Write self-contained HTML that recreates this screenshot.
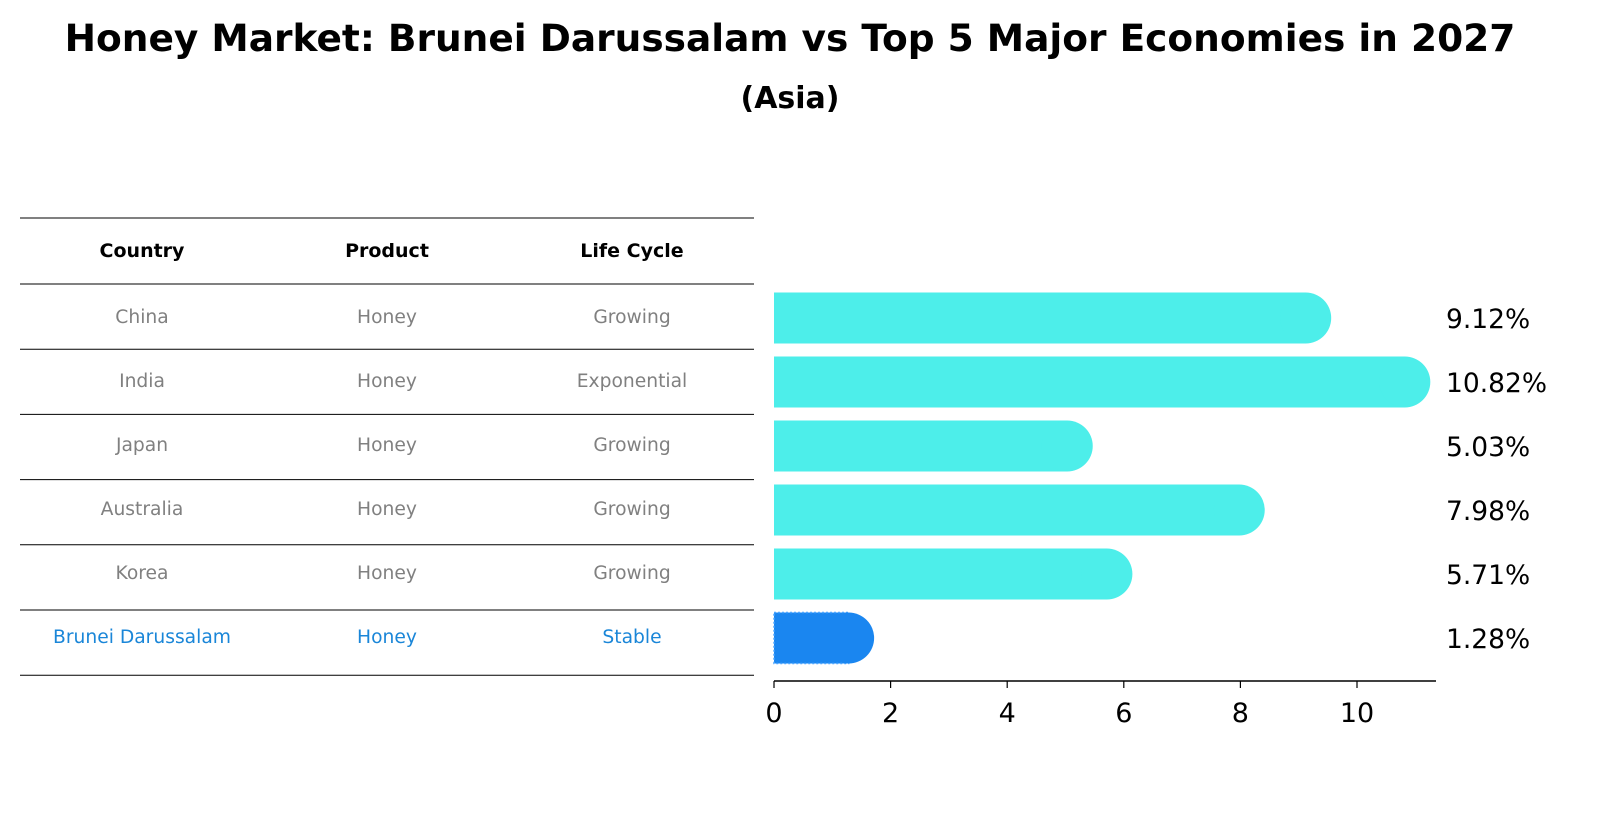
<!DOCTYPE html>
<html><head><meta charset="utf-8"><style>
body{margin:0;background:#fff;}
svg{display:block;font-family:"DejaVu Sans","Liberation Sans",sans-serif;}
</style></head><body>
<svg id="chart" width="1604" height="823" viewBox="0 0 1604 823">
<text x="790" y="51" text-anchor="middle" font-size="37.5" font-weight="bold">Honey Market: Brunei Darussalam vs Top 5 Major Economies in 2027</text>
<text x="790" y="108" text-anchor="middle" font-size="30" font-weight="bold">(Asia)</text>
<g id="table"></g>
<g id="bars"></g>
</svg>
<script>
const countries=["China","India","Japan","Australia","Korea","Brunei Darussalam"];
const products=["Honey","Honey","Honey","Honey","Honey","Honey"];
const lifeCycles=["Growing","Exponential","Growing","Growing","Growing","Stable"];
const values=[9.12,10.82,5.03,7.98,5.71,1.28];
const ticks=[0,2,4,6,8,10];
const highlight="Brunei Darussalam";

const NS="http://www.w3.org/2000/svg";
function mk(tag,attrs,parent){const e=document.createElementNS(NS,tag);for(const k in attrs)e.setAttribute(k,attrs[k]);parent.appendChild(e);return e;}
const x0=774, pxPerUnit=58.3;
const xs=v=>x0+v*pxPerUnit;
const rowY=i=>318+i*64;
const barH=51;

// table
const tbl=document.getElementById('table');
const lineYs=[218,284];
countries.forEach((c,i)=>lineYs.push(284+(i+1)*65.2));
lineYs.forEach((y,i)=>{
  const l=mk('line',{x1:20,x2:754,y1:y,y2:y,stroke:'#000','stroke-width':1},tbl);
  
  
});
const colX=[142,387,632];
["Country","Product","Life Cycle"].forEach((h,j)=>{
  const t=mk('text',{x:colX[j],y:257,'text-anchor':'middle','font-size':19,'font-weight':'bold'},tbl);
  t.textContent=h;
  
  
});
countries.forEach((c,i)=>{
  const y=rowY(i)+5;
  const col=c===highlight?'#1a86d8':'#808080';
  [c,products[i],lifeCycles[i]].forEach((v,j)=>{
    const t=mk('text',{x:colX[j],y:y,'text-anchor':'middle','font-size':18.7,fill:col},tbl);
    t.textContent=v;
    
    
  });
});

// bars
const g=document.getElementById('bars');
values.forEach((v,i)=>{
  const y=rowY(i);
  const hl=countries[i]===highlight;
  const col=hl?'#1a86f0':'#4deeea';
  const r=mk('rect',{x:x0,y:y-barH/2,width:xs(v)-x0,height:barH,fill:col},g);
  
  
  if(hl){r.setAttribute('stroke','#4da6ff');r.setAttribute('stroke-dasharray','2,2');r.setAttribute('stroke-width','1.5');}
  const c=mk('circle',{cx:xs(v),cy:y,r:barH/2,fill:col},g);
  
  
  const t=mk('text',{x:1446,y:y+10,'font-size':26.5},g);
  t.textContent=v.toFixed(2)+'%';
  
  
});
const ax=mk('line',{x1:x0,x2:1436,y1:681,y2:681,stroke:'#000','stroke-width':1.5},g);


ticks.forEach(tv=>{
  const l=mk('line',{x1:xs(tv),x2:xs(tv),y1:681,y2:688,stroke:'#000','stroke-width':1.2},g);
  
  
  const t=mk('text',{x:xs(tv),y:722,'text-anchor':'middle','font-size':27},g);
  t.textContent=tv;
  
  
});
</script>
</body></html>
